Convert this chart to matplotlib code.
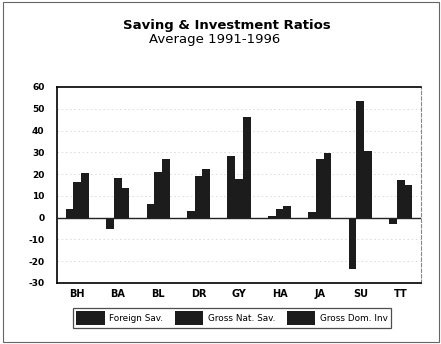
import numpy as np
import matplotlib.pyplot as plt
from matplotlib.patches import Rectangle

plt.rcParams['font.family'] = ['DejaVu Sans']

countries = ["BH", "BA", "BL", "DR", "GY", "HA", "JA", "SU", "TT"]
foreign_sav = [3.8, -5.4, 6.2, 2.9, 28.5, 0.9, 2.6, -23.7, -2.9]
gross_nat_sav = [16.6, 18.0, 20.8, 19.2, 17.8, 4.2, 27.0, 53.5, 17.4]
gross_dom_inv = [20.3, 13.7, 27.0, 22.5, 46.0, 5.4, 29.5, 30.8, 14.8]
series_names = ["Foreign Sav.", "Gross Nat. Sav.", "Gross Dom. Inv"]
y_ticks = [-30, -20, -10, 0, 10, 20, 30, 40, 50, 60]

fig = plt.figure(figsize=(4.41, 3.44), dpi=100)
fig.patch.set_facecolor("white")
ax = fig.add_axes([57 / 441, 1 - 283 / 344, 364 / 441, 196 / 344])

x = np.arange(len(countries))
w = 0.19
for k, vals in enumerate([foreign_sav, gross_nat_sav, gross_dom_inv]):
    ax.bar(x + (k - 1) * w, vals, width=w, color="#1c1c1c", label=series_names[k],
           zorder=3)

ax.axhline(0, color="#222222", lw=1.0, zorder=4)
ax.set_xlim(-0.5, len(countries) - 0.5)
ax.set_ylim(-30, 60)
ax.set_yticks(y_ticks)
ax.set_yticklabels([str(t) for t in y_ticks], fontsize=6.5, fontweight="bold")
ax.set_xticks(x)
ax.set_xticklabels(countries, fontsize=7, fontweight="bold")
ax.tick_params(axis="both", length=0, pad=4)
ax.tick_params(axis="y", pad=9)
for t in y_ticks:
    if t != 0:
        ax.axhline(t, color="#d8d8d8", lw=0.6, ls=(0, (2, 3)), zorder=1)

ax.spines["left"].set_linewidth(1.2)
ax.spines["top"].set_linewidth(1.2)
ax.spines["bottom"].set_linewidth(1.2)
ax.spines["right"].set_color("#888888")
ax.spines["right"].set_linewidth(0.8)
ax.spines["right"].set_linestyle((0, (3, 2)))

fig.text(227 / 441, 1 - 25 / 344, "Saving & Investment Ratios", ha="center", va="center",
         fontsize=9.5, fontweight="bold")
fig.text(215 / 441, 1 - 39 / 344, "Average 1991-1996", ha="center", va="center",
         fontsize=9.5)

leg = fig.legend(loc="center", bbox_to_anchor=(232 / 441, 1 - 318 / 344), ncol=3,
                 fontsize=6.4, frameon=True, fancybox=False, edgecolor="#222222",
                 handlelength=3.2, handleheight=2.0, columnspacing=1.3, handletextpad=0.5,
                 borderpad=0.35)
leg.get_frame().set_linewidth(0.9)

# outer frame of the page
fig.add_artist(Rectangle((3 / 441, 0.005), 436 / 441, 0.99, transform=fig.transFigure,
                         fill=False, edgecolor="#666666", lw=0.8))

fig.savefig("out.png", dpi=100)
